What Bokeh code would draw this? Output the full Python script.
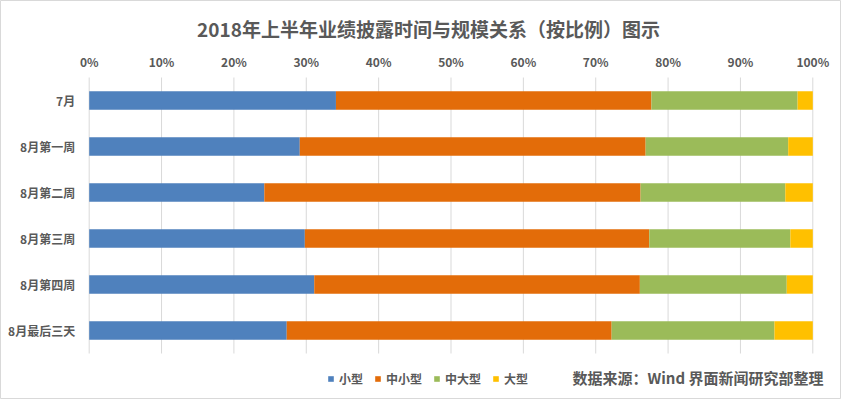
from bokeh.plotting import figure
from bokeh.models import ColumnDataSource, Range1d, Label, Legend, LegendItem
from bokeh.core.properties import value
from bokeh.embed import file_html
from bokeh.resources import INLINE

# ---- data ----
categories = ["7月", "8月第一周", "8月第二周", "8月第三周", "8月第四周", "8月最后三天"]
series_names = ["小型", "中小型", "中大型", "大型"]
small = [0.341, 0.291, 0.242, 0.298, 0.311, 0.273]
mid_small = [0.436, 0.478, 0.520, 0.476, 0.450, 0.449]
mid_large = [0.202, 0.197, 0.200, 0.195, 0.203, 0.225]
large = [0.021, 0.034, 0.038, 0.031, 0.036, 0.053]
x_ticks = [0, 0.1, 0.2, 0.3, 0.4, 0.5, 0.6, 0.7, 0.8, 0.9, 1.0]
tick_labels = ["0%", "10%", "20%", "30%", "40%", "50%", "60%", "70%", "80%", "90%", "100%"]
colors = ["#4F81BD", "#E36C09", "#9BBB59", "#FFC000"]
title_text = "2018年上半年业绩披露时间与规模关系（按比例）图示"
source_text = "数据来源：Wind 界面新闻研究部整理"

FONT = "Noto Sans CJK SC"
TXT = "#595959"
GRID = "#d9d9d9"

# ---- layout constants (pixels) ----
W, H = 841, 399
PL, PR = 88.7, 812.3          # plot area left/right
PT, PB = 77.0, 353.0          # plot area top/bottom
n = len(categories)
sx = (PR - PL)                # px per unit (0..1)
sy = (PB - PT) / n            # px per category

x_start = -PL / sx
x_end = 1 + (W - PR) / sx
y_start = -(H - PB) / sy
y_end = n + PT / sy

ypos = [n - i - 0.5 for i in range(n)]

source = ColumnDataSource(dict(y=ypos, cat=categories, **{
    "小型": small, "中小型": mid_small, "中大型": mid_large, "大型": large}))

p = figure(width=W, height=H, output_backend="svg", toolbar_location=None,
           x_range=Range1d(x_start, x_end), y_range=Range1d(y_start, y_end),
           x_axis_type=None, y_axis_type=None,
           min_border_left=0, min_border_right=0, min_border_top=0, min_border_bottom=0)
p.outline_line_color = GRID
p.outline_line_width = 1
p.background_fill_color = "white"
p.border_fill_color = "white"

# vertical grid lines
p.segment(x0=x_ticks, y0=[0] * len(x_ticks), x1=x_ticks, y1=[n] * len(x_ticks),
          line_color=GRID, line_width=1)

renderers = p.hbar_stack(series_names, y="y", height=0.4, color=colors, source=source,
                         line_color=None)

# x tick labels (top)
tick_y = n + (PT - 60.5) / sy
p.text(x=x_ticks, y=[tick_y] * len(x_ticks), text=tick_labels,
       text_font=value(FONT), text_font_size=value("12px"), text_font_style="bold",
       text_color=TXT, text_align="center", text_baseline="middle")

# category labels (left)
p.text(x="x", y="y", text="cat", source=ColumnDataSource(dict(x=[0] * n, y=ypos, cat=categories)),
       x_offset=-14, text_font=value(FONT), text_font_size=value("12px"),
       text_font_style="bold", text_color=TXT, text_align="right", text_baseline="middle")

# title
p.add_layout(Label(x=428, y=H - 28, x_units="screen", y_units="screen", text=title_text,
                   text_align="center", text_baseline="middle", text_font=FONT,
                   text_font_size="19px", text_font_style="bold", text_color=TXT))

# source note
p.add_layout(Label(x=572, y=H - 376.5, x_units="screen", y_units="screen", text=source_text,
                   text_align="left", text_baseline="middle", text_font=FONT,
                   text_font_size="15px", text_font_style="bold", text_color=TXT))

legend = Legend(items=[LegendItem(label=nm, renderers=[r]) for nm, r in zip(series_names, renderers)],
                location=(327, 12), orientation="horizontal",
                glyph_width=7, glyph_height=7, label_standoff=5, spacing=11,
                padding=0, margin=0, border_line_color=None, background_fill_alpha=0,
                label_text_font=FONT, label_text_font_size="12px", label_text_font_style="bold",
                label_text_color=TXT, label_height=14, label_width=10)
p.add_layout(legend, "center")

open("out.html", "w").write(file_html(p, INLINE))
